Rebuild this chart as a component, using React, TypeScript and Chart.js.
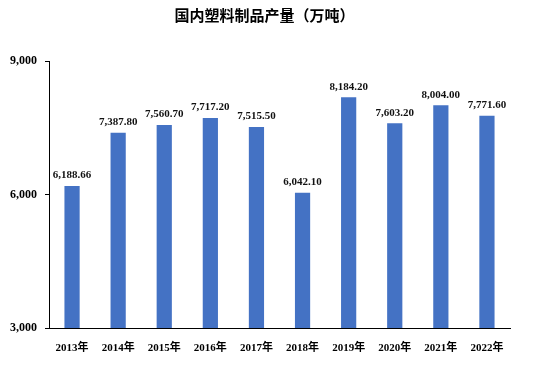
import React, { useEffect, useRef } from "react";
import { Chart, registerables } from "chart.js";

Chart.register(...registerables);

const categories = ["2013年", "2014年", "2015年", "2016年", "2017年", "2018年", "2019年", "2020年", "2021年", "2022年"];
const production = [6188.66, 7387.8, 7560.7, 7717.2, 7515.5, 6042.1, 8184.2, 7603.2, 8004.0, 7771.6];
const yTicks = [3000, 6000, 9000];
const title = "国内塑料制品产量（万吨）";

const FONT = "'Liberation Serif', 'Noto Sans CJK SC', serif";

const fmt = (v: number, d: number) =>
  v.toLocaleString("en-US", { minimumFractionDigits: d, maximumFractionDigits: d });

const valueLabels = {
  id: "valueLabels",
  afterDatasetsDraw(chart: any) {
    const ctx = chart.ctx;
    const meta = chart.getDatasetMeta(0);
    ctx.save();
    ctx.font = `bold 11px ${FONT}`;
    ctx.fillStyle = "#111";
    ctx.textAlign = "center";
    ctx.textBaseline = "bottom";
    meta.data.forEach((el: any, i: number) => {
      ctx.fillText(fmt(production[i], 2), el.x, el.y - 5);
    });
    ctx.restore();
  },
};

const titlePlugin = {
  id: "centerTitle",
  afterDraw(chart: any) {
    const ctx = chart.ctx;
    ctx.save();
    ctx.font = `bold 15px ${FONT}`;
    ctx.fillStyle = "#000";
    ctx.textAlign = "center";
    ctx.textBaseline = "middle";
    ctx.fillText(title, chart.width / 2 - 3, 17);
    ctx.restore();
  },
};

export default function App() {
  const ref = useRef<HTMLCanvasElement | null>(null);
  useEffect(() => {
    document.body.style.margin = "0";
    const chart = new Chart(ref.current!, {
      type: "bar",
      data: {
        labels: categories,
        datasets: [
          {
            data: production,
            backgroundColor: "#4472C4",
            barPercentage: 0.33,
            categoryPercentage: 1,
          },
        ],
      },
      options: {
        animation: false,
        responsive: false,
        layout: { padding: { left: 0, right: 25, top: 61, bottom: 0 } },
        plugins: {
          legend: { display: false },
          tooltip: { enabled: false },
          title: { display: false },
        },
        scales: {
          x: {
            grid: { display: false },
            border: { display: true, color: "#000", width: 1 },
            ticks: {
              color: "#000",
              font: { family: FONT, size: 11, weight: "bold" },
              padding: 6,
              maxRotation: 0,
            },
            afterFit(scale: any) {
              scale.height = 37;
            },
          },
          y: {
            min: 3000,
            max: 9000,
            afterBuildTicks(scale: any) {
              scale.ticks = yTicks.map((v) => ({ value: v }));
            },
            grid: { drawOnChartArea: false, drawTicks: true, tickLength: 4, color: "#000" },
            border: { display: true, color: "#000", width: 1 },
            ticks: {
              color: "#000",
              font: { family: FONT, size: 12, weight: "bold" },
              padding: 8,
              callback: (v: any) => fmt(Number(v), 0),
            },
            afterFit(scale: any) {
              scale.width = 49;
            },
          },
        },
      },
      plugins: [valueLabels, titlePlugin],
    });
    return () => chart.destroy();
  }, []);
  return (
    <div style={{ width: 535, height: 365 }}>
      <canvas ref={ref} width={535} height={365} />
    </div>
  );
}
